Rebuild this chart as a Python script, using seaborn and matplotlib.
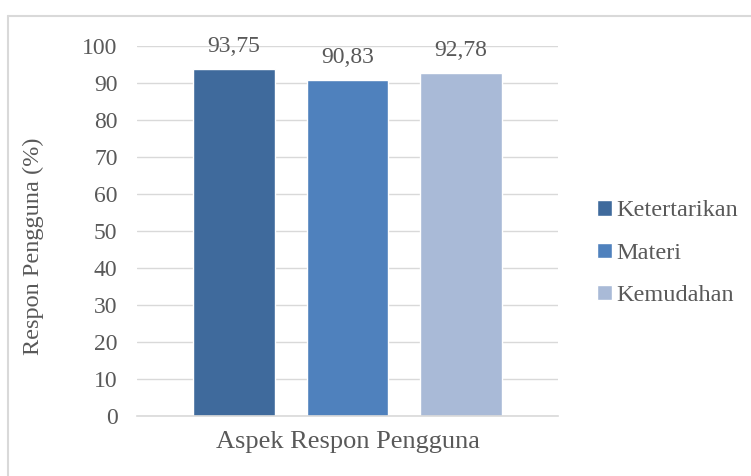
import matplotlib
matplotlib.use('agg')
import matplotlib.pyplot as plt
import seaborn as sns
import pandas as pd
from matplotlib.lines import Line2D

aspek = ['Ketertarikan', 'Materi', 'Kemudahan']
nilai = [93.75, 90.83, 92.78]
warna = ['#3F6A9C', '#4F81BD', '#A9BAD7']
yticks = [0, 10, 20, 30, 40, 50, 60, 70, 80, 90, 100]

df = pd.DataFrame({'grup': [''] * len(aspek), 'aspek': aspek, 'nilai': nilai})

sns.set_theme(style='white')
plt.rcParams['font.family'] = ['Liberation Serif', 'DejaVu Serif']
grey = '#595959'

fig = plt.figure(figsize=(7.51, 4.76), dpi=100)
ax = fig.add_axes([0.1824, 0.126, 0.5606, 0.7774])

sns.barplot(data=df, x='grup', y='nilai', hue='aspek', hue_order=aspek,
            palette=warna, width=0.81, gap=0.28, saturation=1, ax=ax)

ax.set_xlim(-0.5, 0.5)
ax.set_ylim(0, 100)
ax.set_yticks(yticks)
ax.yaxis.grid(True, color='#D9D9D9', linewidth=1)
ax.set_axisbelow(True)
for s in ['top', 'right', 'left']:
    ax.spines[s].set_visible(False)
ax.spines['bottom'].set_color('#D9D9D9')
ax.spines['bottom'].set_linewidth(1.2)
ax.tick_params(axis='y', length=0, pad=14, labelsize=17, labelcolor=grey)
ax.tick_params(axis='x', length=0, labelbottom=False)
ax.set_xlabel('Aspek Respon Pengguna', fontsize=19, color=grey)
ax.xaxis.set_label_coords(0.5, -0.041)
ax.set_ylabel('Respon Pengguna (%)', fontsize=17.5, color=grey)
ax.yaxis.set_label_coords(-0.221, 0.46)

for cont, v in zip(ax.containers, nilai):
    ax.bar_label(cont, labels=[f'{v:.2f}'.replace('.', ',')], padding=8.5,
                 fontsize=17, color=grey)

leg = ax.legend(loc='center left', bbox_to_anchor=(0.782, 0.468),
                bbox_transform=fig.transFigure, frameon=False, fontsize=17.5,
                labelcolor=grey, handlelength=0.6, handleheight=0.6,
                handletextpad=0.2, labelspacing=0.87, borderaxespad=0)

# chart frame (only left and top edges visible in the reference)
fig.add_artist(Line2D([0.0107, 0.0107], [0, 1 - 16 / 476], transform=fig.transFigure,
                      color='#D9D9D9', linewidth=1.5))
fig.add_artist(Line2D([0.0107, 1], [1 - 16 / 476, 1 - 16 / 476], transform=fig.transFigure,
                      color='#D9D9D9', linewidth=1.5))

fig.savefig('out.png', dpi=100)
